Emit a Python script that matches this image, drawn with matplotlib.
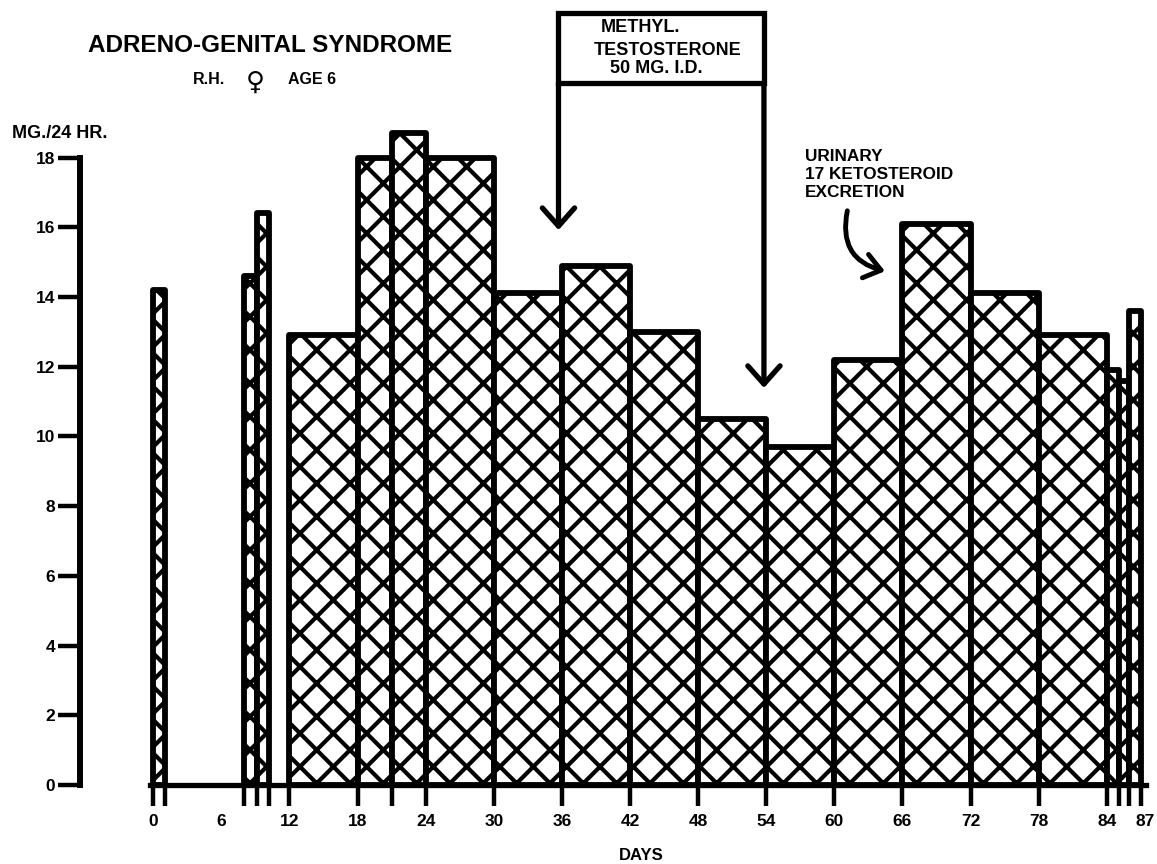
import numpy as np
import matplotlib.pyplot as plt
from matplotlib.patches import Rectangle, FancyArrowPatch

# ---------------------------------------------------------
# Data (urinary 17-ketosteroids, mg/24 hr)
# ---------------------------------------------------------
day_start = [0, 8, 9.1, 12, 18, 21, 24, 30, 36, 42, 48, 54, 60, 66, 72, 78, 84, 85.1, 86]
day_end = [1, 9.1, 10.2, 18, 21, 24, 30, 36, 42, 48, 54, 60, 66, 72, 78, 84, 85.1, 86, 87]
mg_per_24h = [14.2, 14.6, 16.4, 12.9, 18.0, 18.7, 18.0, 14.1, 14.9, 13.0,
              10.5, 9.7, 12.2, 16.1, 14.1, 12.9, 11.9, 11.6, 13.6]

day_ticks = [0, 6, 12, 18, 24, 30, 36, 42, 48, 54, 60, 66, 72, 78, 84, 87]
mg_ticks = [0, 2, 4, 6, 8, 10, 12, 14, 16, 18]

# treatment period (methyl testosterone), days
treat_start = 35.7
treat_end = 53.8

plt.rcParams['font.family'] = ['Liberation Sans', 'DejaVu Sans']
plt.rcParams['font.weight'] = 'bold'
plt.rcParams['hatch.linewidth'] = 3.0

DPI = 100
fig = plt.figure(figsize=(11.57, 8.64), dpi=DPI)
ax = fig.add_axes([0.0691, 0.0914, 0.9316, 0.9038])

widths = np.array(day_end) - np.array(day_start)
ax.bar(day_start, mg_per_24h, width=widths, align='edge', color='white',
       edgecolor='black', linewidth=4.2, hatch='x', joinstyle='round', zorder=2)

ax.set_xlim(-6.46, 88.5)
ax.set_ylim(0, 22.4)

# axes look
for s in ['top', 'right']:
    ax.spines[s].set_visible(False)
ax.spines['left'].set_bounds(0, 18)
ax.spines['left'].set_linewidth(4.3)
ax.spines['bottom'].set_bounds(-0.3, 87.5)
ax.spines['bottom'].set_linewidth(3.8)
ax.spines['bottom'].set_zorder(3)

ax.set_yticks(mg_ticks)
ax.tick_params(axis='y', length=15.8, width=3.2, pad=2.2, labelsize=12.5)

label_pos = day_ticks[:-1] + [87.4]
ax.set_xticks(label_pos)
ax.set_xticklabels([str(d) for d in day_ticks])
edges = sorted(set(day_start) | set(day_end))
ax.xaxis.remove_overlapping_locs = False
ax.set_xticks(edges, minor=True)
ax.tick_params(axis='x', which='major', length=0, pad=21, labelsize=12.5)
ax.tick_params(axis='x', which='minor', length=15, width=3.2)

# titles
fig.text(88 / 1157, 1 - 45 / 864, 'ADRENO-GENITAL SYNDROME', fontsize=17.5,
         ha='left', va='center')
fig.text(193 / 1157, 1 - 80 / 864, 'R.H.', fontsize=11.5, ha='left', va='center')
fig.text(255 / 1157, 1 - 83 / 864, '\u2640', fontsize=18.5, ha='center', va='center',
         family=['DejaVu Sans'])
fig.text(288 / 1157, 1 - 80 / 864, 'AGE 6', fontsize=11.5, ha='left', va='center')
fig.text(12 / 1157, 1 - 134 / 864, 'MG./24 HR.', fontsize=13, ha='left', va='center')
fig.text(641 / 1157, 1 - 856 / 864, 'DAYS', fontsize=12, ha='center', va='center')

# treatment box with arrows
box = Rectangle((treat_start, 20.14), treat_end - treat_start, 2.01, fill=False,
                lw=3.8, edgecolor='black', clip_on=False, zorder=4)
ax.add_patch(box)
ax.text(42.9, 21.72, 'METHYL.', fontsize=13, ha='center', va='center')
ax.text(45.35, 21.08, 'TESTOSTERONE', fontsize=13, ha='center', va='center')
ax.text(44.3, 20.55, '50 MG. I.D.', fontsize=13, ha='center', va='center')

for x, tip in [(treat_start, 15.92), (treat_end, 11.39)]:
    ax.annotate('', xy=(x, tip), xytext=(x, 20.14),
                arrowprops=dict(arrowstyle='->,head_length=0.45,head_width=0.4',
                                lw=3.8, color='black', shrinkA=0, shrinkB=0,
                                mutation_scale=29),
                annotation_clip=False, zorder=4)

# series label with curved arrow
ax.text(57.4, 17.5, 'URINARY\n17 KETOSTEROID\nEXCRETION', fontsize=12.4,
        ha='left', va='center', linespacing=1.25)
curve = FancyArrowPatch((61.2, 16.55), (64.7, 14.72),
                        connectionstyle='arc3,rad=0.5',
                        arrowstyle='->,head_length=0.4,head_width=0.3',
                        mutation_scale=29, lw=3.5, color='black', zorder=4)
ax.add_patch(curve)

fig.savefig('out.png', dpi=DPI)
